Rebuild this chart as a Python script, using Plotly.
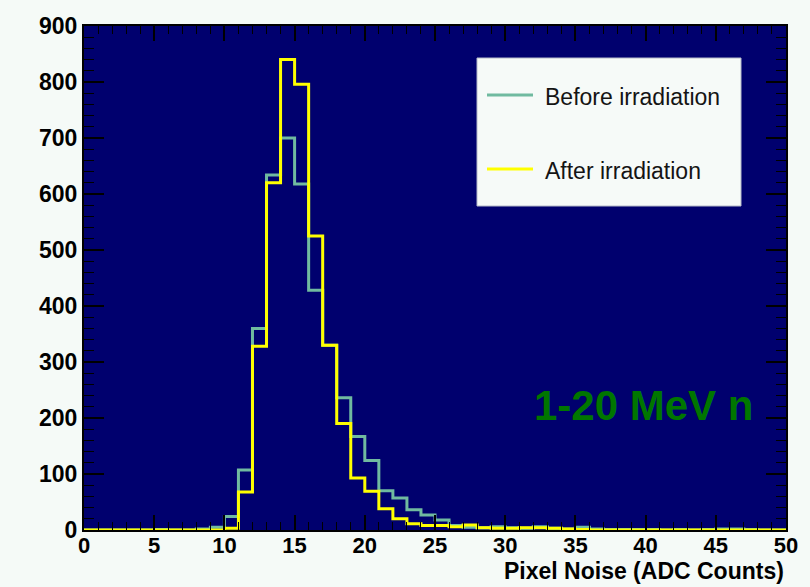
import plotly.graph_objects as go

# ---- data (1-unit bins from 0 to 50) ----
bin_edges = list(range(0, 51))
before_counts = [0, 0, 0, 0, 0, 1, 0, 0, 2, 5,
                 24, 107, 360, 634, 700, 618, 428, 330, 236, 167,
                 124, 70, 57, 36, 27, 18, 8, 5, 4, 6,
                 4, 3, 6, 3, 2, 5, 2, 1, 1, 1,
                 1, 0, 1, 0, 1, 2, 2, 1, 0, 0]
after_counts = [0, 0, 0, 0, 0, 0, 0, 0, 0, 0,
                3, 68, 328, 620, 840, 796, 525, 330, 190, 93,
                69, 38, 20, 11, 8, 8, 6, 9, 4, 3,
                3, 4, 4, 3, 2, 1, 0, 0, 0, 0,
                0, 0, 0, 0, 0, 0, 0, 0, 0, 0]
series_names = ["Before irradiation", "After irradiation"]
x_ticks = [0, 5, 10, 15, 20, 25, 30, 35, 40, 45, 50]
y_ticks = [0, 100, 200, 300, 400, 500, 600, 700, 800, 900]
x_title = "Pixel Noise (ADC Counts)"
label_text = "1-20 MeV n"

NAVY = "rgb(0,0,110)"
TEAL = "rgb(112,186,160)"
YELLOW = "rgb(255,255,0)"
BG = "rgb(245,250,247)"
GREEN = "rgb(0,118,0)"
FONT = "Liberation Sans"

fig = go.Figure()
for counts, name, color in [(before_counts, series_names[0], TEAL),
                            (after_counts, series_names[1], YELLOW)]:
    fig.add_trace(go.Scatter(
        x=bin_edges, y=counts + [counts[-1]], mode="lines",
        line=dict(shape="hv", color=color, width=3),
        name=name, showlegend=False, hoverinfo="skip"))

# plot area geometry in pixels
L, R, T, B = 84, 786, 26, 530
W, H = R - L, B - T
def px(xp):
    return (xp - L) / W
def py(yp):
    return (B - yp) / H

fig.update_layout(
    width=810, height=587,
    margin=dict(l=L, r=810 - R, t=T, b=587 - B),
    paper_bgcolor=BG, plot_bgcolor=NAVY,
    font=dict(family=FONT, color="black"),
    xaxis=dict(range=[0, 50], tickvals=x_ticks, ticks="inside", ticklen=15,
               tickwidth=1.5, tickcolor="black", showgrid=False, zeroline=False,
               showline=True, linecolor="black", linewidth=2, mirror="allticks",
               ticklabelstandoff=-5,
               tickfont=dict(family=FONT, size=22, color="black", weight="bold"),
               minor=dict(dtick=1, ticks="inside", ticklen=8, tickcolor="black",
                          tickwidth=1, showgrid=False)),
    yaxis=dict(range=[0, 900], tickvals=y_ticks, ticks="inside", ticklen=20,
               tickwidth=1.5, tickcolor="black", showgrid=False, zeroline=False,
               showline=True, linecolor="black", linewidth=2, mirror="allticks",
               tickfont=dict(family=FONT, size=23, color="black", weight="bold"),
               minor=dict(dtick=20, ticks="inside", ticklen=10, tickcolor="black",
                          tickwidth=1, showgrid=False)),
    showlegend=False,
)

# legend box
fig.add_shape(type="rect", xref="paper", yref="paper",
              x0=px(477), x1=px(741), y0=py(206), y1=py(58),
              fillcolor="rgb(246,250,248)", line=dict(color="rgb(180,185,200)", width=1),
              layer="above")
for yy, name, color in [(95, series_names[0], TEAL), (169, series_names[1], YELLOW)]:
    fig.add_shape(type="line", xref="paper", yref="paper",
                  x0=px(487), x1=px(533), y0=py(yy), y1=py(yy),
                  line=dict(color=color, width=3), layer="above")
    fig.add_annotation(xref="paper", yref="paper", x=px(543), y=py(yy + 2),
                       xanchor="left", yanchor="middle", showarrow=False,
                       text=name, font=dict(family=FONT, size=23, color="rgb(20,20,20)"))

# energy label
fig.add_annotation(xref="paper", yref="paper", x=px(755), y=py(405),
                   xanchor="right", yanchor="middle", showarrow=False,
                   text=label_text,
                   font=dict(family=FONT, size=42, color=GREEN, weight="bold"))

# x axis title (right aligned)
fig.add_annotation(xref="paper", yref="paper", x=1.0, y=py(571),
                   xanchor="right", yanchor="middle", showarrow=False,
                   text=x_title,
                   font=dict(family=FONT, size=23, color="black", weight="bold"))

fig.write_html("out.html")
